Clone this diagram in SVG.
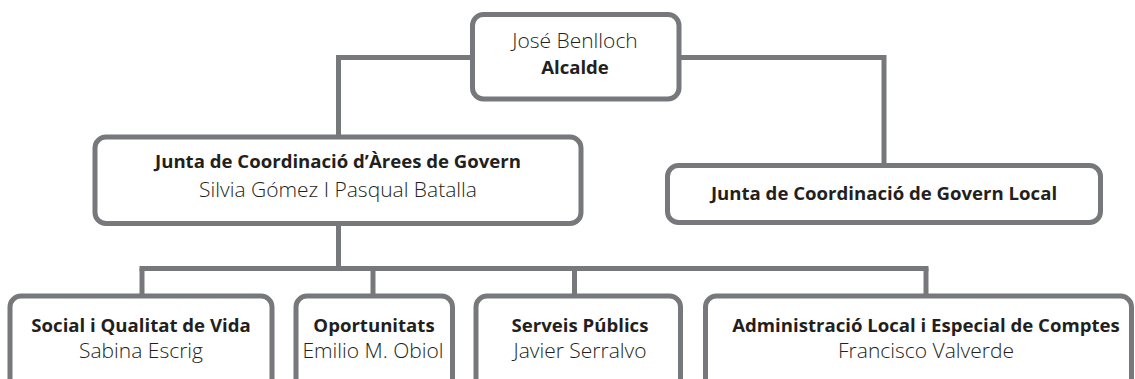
<svg xmlns="http://www.w3.org/2000/svg" width="1135" height="379" viewBox="0 0 1135 379">
<style>
.box{fill:#ffffff;stroke:#77787b;stroke-width:5}
.con{fill:none;stroke:#77787b;stroke-width:5;stroke-linejoin:miter;stroke-linecap:butt}
.b{font-family:"Open Sans","Noto Sans","Liberation Sans",sans-serif;font-weight:700;font-size:18.6px;fill:#231f20;text-anchor:middle}
.r{font-family:"Open Sans","Noto Sans","Liberation Sans",sans-serif;font-weight:300;font-size:21px;fill:#231f20;text-anchor:middle}
</style>
<rect width="1135" height="379" fill="#ffffff"/>
<g id="connectors">
<path class="con" d="M474,57.5 H338.5 V138"/>
<path class="con" d="M678,57.5 H884 V166"/>
<path class="con" d="M338.5,222 V268.5"/>
<path class="con" d="M139.5,268.5 H928.5"/>
<path class="con" d="M142,268.5 V297"/>
<path class="con" d="M373,268.5 V297"/>
<path class="con" d="M574.5,268.5 V297"/>
<path class="con" d="M926,268.5 V297"/>
</g>
<g id="alcalde">
<rect class="box" x="472.5" y="14.5" width="206.5" height="84.5" rx="11"/>
<text class="r" x="575" y="48">José Benlloch</text>
<text class="b" x="575" y="74">Alcalde</text>
</g>
<g id="junta-arees">
<rect class="box" x="95" y="137" width="486" height="86.5" rx="11"/>
<text class="b" x="338" y="168">Junta de Coordinació d’Àrees de Govern</text>
<text class="r" x="338" y="197">Silvia Gómez I Pasqual Batalla</text>
</g>
<g id="junta-local">
<rect class="box" x="667.5" y="165.5" width="433" height="57" rx="11"/>
<text class="b" x="884" y="200">Junta de Coordinació de Govern Local</text>
</g>
<g id="social">
<rect class="box" x="10" y="296" width="262" height="120" rx="11"/>
<text class="b" x="141" y="332">Social i Qualitat de Vida</text>
<text class="r" x="141" y="358">Sabina Escrig</text>
</g>
<g id="oportunitats">
<rect class="box" x="296" y="296" width="156.5" height="120" rx="11"/>
<text class="b" x="374" y="332">Oportunitats</text>
<text class="r" x="373" y="358">Emilio M. Obiol</text>
</g>
<g id="serveis">
<rect class="box" x="476" y="296" width="204.5" height="120" rx="11"/>
<text class="b" x="580" y="332">Serveis Públics</text>
<text class="r" x="580" y="358">Javier Serralvo</text>
</g>
<g id="administracio">
<rect class="box" x="705.5" y="296" width="426" height="120" rx="11"/>
<text class="b" x="926" y="332">Administració Local i Especial de Comptes</text>
<text class="r" x="926" y="358">Francisco Valverde</text>
</g>
</svg>
